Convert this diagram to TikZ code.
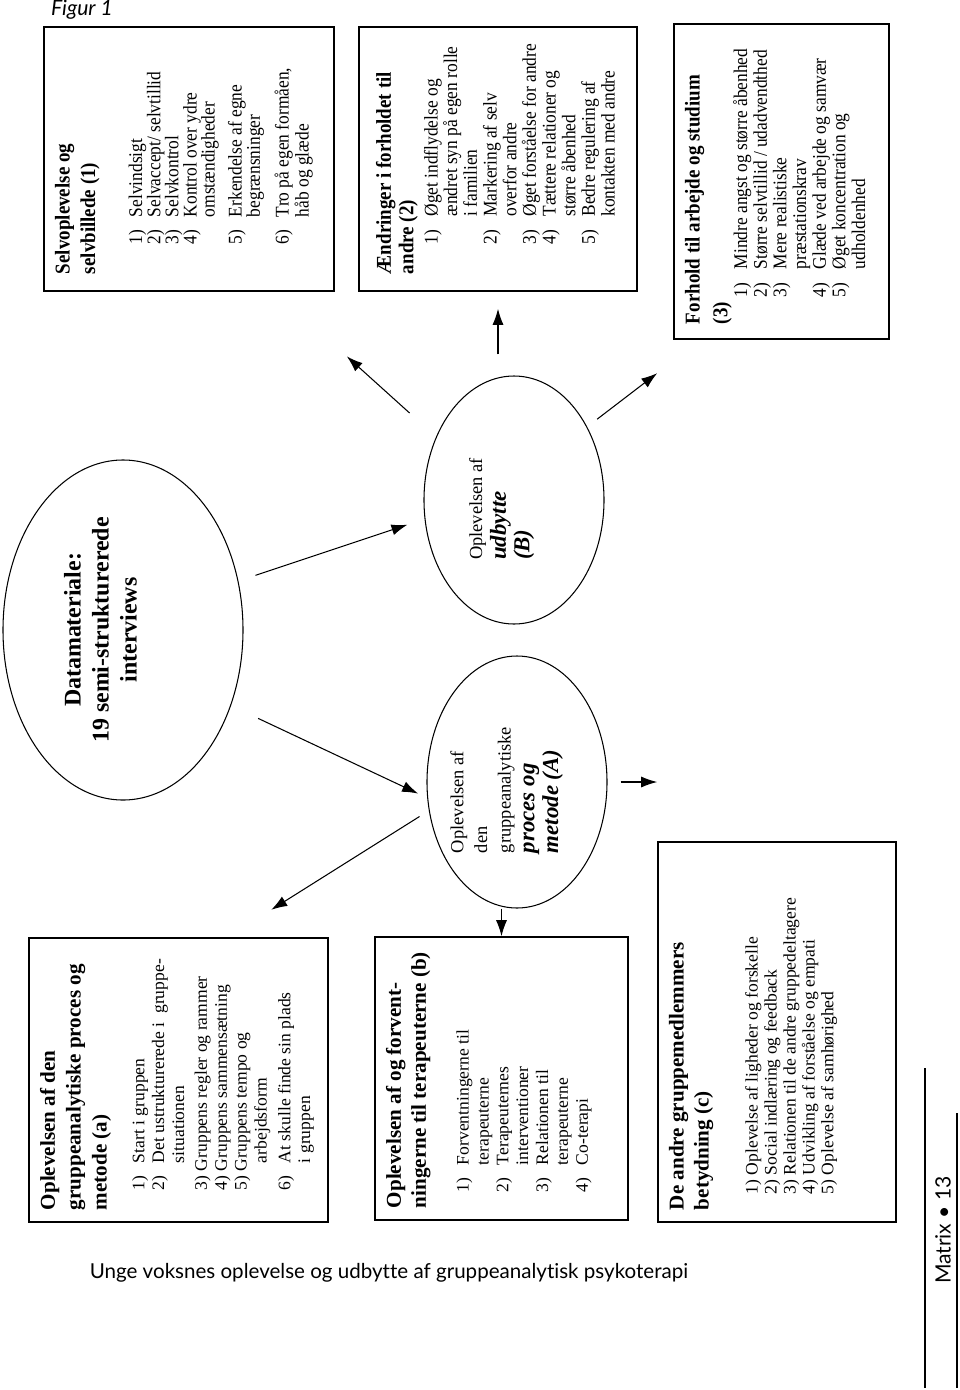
\documentclass[tikz,border=0pt]{standalone}
\usepackage{fontspec}
\setmainfont{Liberation Serif}
\newfontfamily\narrowfont[FakeStretch=0.9]{Liberation Serif}
\newfontfamily\journalfont[Ligatures=CommonOff]{Lato}
\usepackage{graphicx}
\usetikzlibrary{arrows.meta,shapes.geometric}

\newlength\numind
\newlength\txtind
\newcommand\itm[2]{\par\noindent\hangindent=\txtind\hangafter=1\hspace*{\numind}\makebox[\dimexpr\txtind-\numind\relax][l]{#1}#2}
\newcommand\itmt[2]{\par\noindent\hangindent=\txtind\hangafter=1\hspace*{\numind}#1 #2}
\newcommand\boxbody[3]{\rotatebox{90}{\parbox[c][#2][t]{#1}{#3}}}

\begin{document}
\begin{tikzpicture}[x=0.2mm,y=-0.2mm]
\tikzstyle{box}=[draw=black,line width=0.9pt,inner sep=0pt]
\tikzstyle{oval}=[ellipse,draw=black,line width=0.6pt,inner sep=-4mm]
\tikzstyle{arr}=[line width=0.6pt,-{Latex[length=3.2mm,width=2.2mm]}]
\tikzstyle{journal}=[inner sep=0pt,font=\journalfont]
\useasboundingbox (0,0) rectangle (960,1390);

\node[journal] (figur) at (82,10) {\fontsize{12}{14}\selectfont\itshape Figur 1};

\node[box,minimum width=58mm,minimum height=52.8mm] (selv) at (189,159) {\boxbody{46mm}{53.6mm}{%
  \narrowfont
  {\bfseries\fontsize{12}{14.5}\selectfont Selvoplevelse og\newline selvbillede (1)\par}
  \vspace{5.8mm}
  \fontsize{11}{10.3}\selectfont\setlength\numind{6mm}\setlength\txtind{11.4mm}
  \itm{1)}{Selvindsigt}
  \itm{2)}{Selvaccept/ selvtillid}
  \itm{3)}{Selvkontrol}
  \itm{4)}{Kontrol over ydre\newline omstændigheder}
  \par\vspace{1.8mm}
  \itm{5)}{Erkendelse af egne\newline begrænsninger}
  \par\vspace{1.8mm}
  \itm{6)}{Tro på egen formåen,\newline håb og glæde}\par}};

\node[box,minimum width=55.6mm,minimum height=52.8mm] (andre) at (498,159) {\boxbody{46mm}{48.8mm}{%
  \narrowfont
  {\bfseries\fontsize{12}{12.8}\selectfont Ændringer i forholdet til\newline andre (2)\par}
  \vspace{0.9mm}
  \fontsize{11}{11.2}\selectfont\setlength\numind{6mm}\setlength\txtind{11.5mm}
  \itm{1)}{Øget indflydelse og\newline ændret syn på egen rolle\newline i familien}
  \itm{2)}{Markering af selv\newline overfor andre}
  \itm{3)}{Øget forståelse for andre}
  \itm{4)}{Tættere relationer og\newline større åbenhed}
  \itm{5)}{Bedre regulering af\newline kontakten med andre}\par}};

\node[box,minimum width=43mm,minimum height=63mm] (arbejde) at (781.5,181.5) {\boxbody{57mm}{38.6mm}{%
  \narrowfont
  {\bfseries\fontsize{12}{15.8}\selectfont Forhold til arbejde og studium\newline (3)\par}
  \fontsize{11}{11.2}\selectfont\setlength\numind{5.4mm}\setlength\txtind{11mm}
  \itm{1)}{Mindre angst og større åbenhed}
  \itm{2)}{Større selvtillid / udadvendthed}
  \itm{3)}{Mere realistiske\newline præstationskrav}
  \itm{4)}{Glæde ved arbejde og samvær}
  \itm{5)}{Øget koncentration og\newline udholdenhed}\par}};

\node[oval,minimum width=48mm,minimum height=68mm] (data) at (123,630) {\rotatebox{90}{\bfseries\fontsize{13.6}{16}\selectfont
  \begin{tabular}{@{}c@{}}Datamateriale:\\19 semi-strukturerede\\interviews\\[8mm]\end{tabular}}};

\node[oval,minimum width=36mm,minimum height=49.6mm] (udb) at (514,500) {\rotatebox{90}{\fontsize{10.5}{13.5}\selectfont
  \begin{tabular}{@{}l@{\hspace{3.6mm}}}Oplevelsen af\\
  \bfseries\itshape\fontsize{13}{15}\selectfont udbytte\\
  \bfseries\itshape\fontsize{13}{15}\selectfont (B)\\[5.2mm]\end{tabular}}};

\node[oval,minimum width=36mm,minimum height=50.4mm] (proc) at (517,782) {\rotatebox{90}{\fontsize{10.5}{13.5}\selectfont
  \begin{tabular}{@{}l@{\hspace{3.2mm}}}Oplevelsen af\\
  den\\
  gruppeanalytiske\\
  \bfseries\itshape\fontsize{13}{15}\selectfont proces og\\
  \bfseries\itshape\fontsize{13}{15}\selectfont metode (A)\\[4.4mm]\end{tabular}}};

\node[box,minimum width=59.8mm,minimum height=56.8mm] (boxa) at (178.5,1080) {\boxbody{52mm}{55.4mm}{%
  {\bfseries\fontsize{12}{14.7}\selectfont Oplevelsen af den\newline gruppeanalytiske proces og\newline metode (a)\par}
  \vspace{3.6mm}
  \fontsize{10}{11.3}\selectfont\setlength\numind{4mm}\setlength\txtind{9.4mm}
  \itm{1)}{Start i gruppen}
  \itm{2)}{Det ustrukturerede i\ \ gruppe-\newline situationen}
  \par\vspace{0.6mm}
  \itmt{3)}{Gruppens regler og rammer}
  \itmt{4)}{Gruppens sammensætning}
  \itmt{5)}{Gruppens tempo og\newline arbejdsform}
  \par\vspace{0.8mm}
  \itm{6)}{At skulle finde sin plads\newline i gruppen}\par}};

\node[box,minimum width=50.6mm,minimum height=56.6mm] (boxb) at (501.5,1078.5) {\boxbody{51.8mm}{46.2mm}{%
  {\bfseries\fontsize{12}{14.2}\selectfont Oplevelsen af og forvent-\newline ningerne til terapeuterne (b)\par}
  \vspace{4.6mm}
  \fontsize{10}{11.3}\selectfont\setlength\numind{3.2mm}\setlength\txtind{8.6mm}
  \itm{1)}{Forventningerne til\newline terapeuterne}
  \itm{2)}{Terapeuternes\newline interventioner}
  \itm{3)}{Relationen til\newline terapeuterne}
  \itm{4)}{Co-terapi}\par}};

\node[box,minimum width=47.6mm,minimum height=76mm] (boxc) at (777,1032) {\boxbody{71.2mm}{43.2mm}{%
  {\bfseries\fontsize{12}{14.2}\selectfont De andre gruppemedlemmers\newline betydning (c)\par}
  \vspace{6mm}
  \fontsize{10}{10.8}\selectfont\setlength\numind{3.2mm}\setlength\txtind{8mm}
  \itmt{1)}{Oplevelse af ligheder og forskelle}
  \itmt{2)}{Social indlæring og feedback}
  \itmt{3)}{Relationen til de andre gruppedeltagere}
  \itmt{4)}{Udvikling af forståelse og empati}
  \itmt{5)}{Oplevelse af samhørighed}\par}};

\draw[arr,shorten <=3.6mm,shorten >=3.6mm] (data.23) -- (udb.192);
\draw[arr,shorten <=6mm,shorten >=2mm] (data.-35) -- (proc.190);
\draw[arr,shorten <=4.2mm,shorten >=3.4mm] (udb.north -| andre.south) -- (andre.south);
\draw[arr,shorten <=7.1mm,shorten >=19.3mm] (udb.141.6) -- (selv.-57.1);
\draw[arr,shorten <=2.5mm,shorten >=11mm] (udb.45.7) -- (arbejde.243.6);
\draw[arr,shorten <=2.2mm,shorten >=10.3mm] (proc.198) -- (boxa.71.3);
\draw[arr] (proc.south -| boxb.north) -- (boxb.north);
\draw[arr,shorten <=2.6mm] (proc.east) -- (proc.east -| boxc.west);

\node[journal] (titel) at (389,1273) {\fontsize{11.7}{14}\selectfont Unge voksnes oplevelse og udbytte af gruppeanalytisk psykoterapi};
\node[journal,rotate=90] (matrix) at (943,1230) {\fontsize{12}{14}\selectfont Matrix • 13};
\draw[line width=0.8pt] (925,1068) -- (925,1388);
\draw[line width=0.8pt] (957,1113) -- (957,1388);
\end{tikzpicture}
\end{document}
